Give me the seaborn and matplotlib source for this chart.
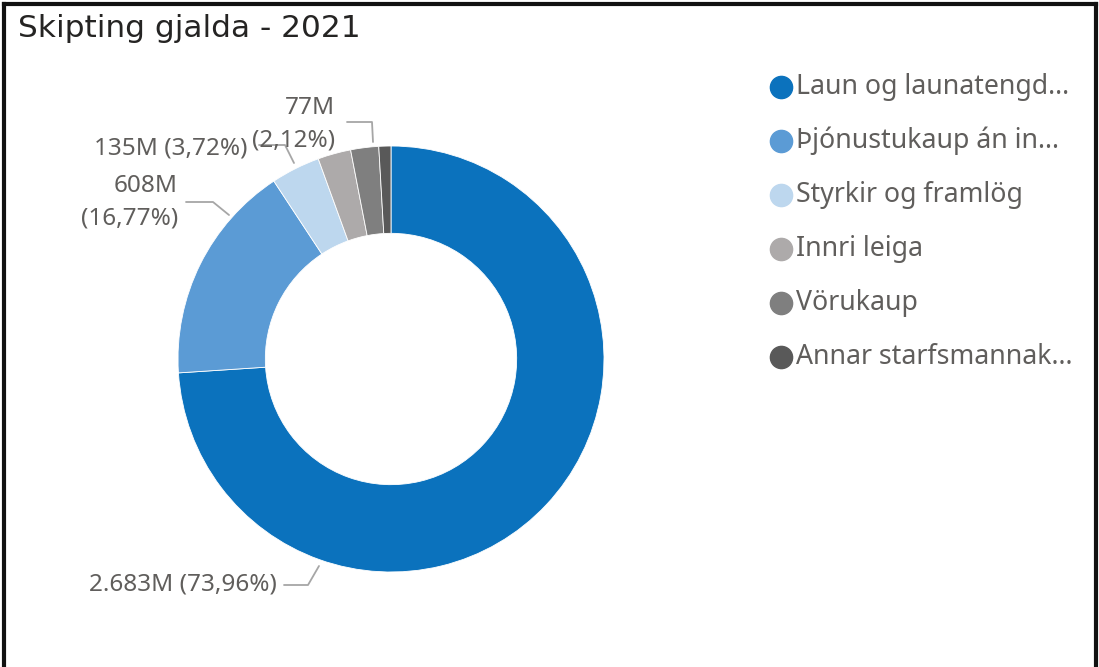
import matplotlib
matplotlib.use("Agg")
import matplotlib.pyplot as plt
from matplotlib.lines import Line2D
import seaborn as sns

# Expense categories (legend text) and amounts in millions
categories = [
    "Laun og launatengd...",
    "Þjónustukaup án in...",
    "Styrkir og framlög",
    "Innri leiga",
    "Vörukaup",
    "Annar starfsmannak...",
]
amounts_m = [2683.0, 608.4, 135.0, 91.0, 77.0, 33.2]
colors = ["#0B72BD", "#5B9BD5", "#BDD7EE", "#ADAAAA", "#7F7F7F", "#595959"]
labelled = [0, 1, 2, 4]  # slices that carry a data label
title = "Skipting gjalda - 2021"

sns.set_theme(style="white")
plt.rcParams["font.family"] = ["Noto Sans", "DejaVu Sans"]

W, H = 1099, 667
CX, CY, R = 391, 359, 213  # donut centre and outer radius in pixels

fig = plt.figure(figsize=(W / 100, H / 100), dpi=100)
ax = fig.add_axes([0, 0, 1, 1])

def px(x, y):
    """Pixel position -> data coordinates (donut centred at 0,0, radius 1)."""
    return (x - CX) / R, (CY - y) / R

palette = sns.color_palette(colors)
ax.pie(amounts_m, colors=palette, startangle=90, counterclock=False,
       radius=1.0, wedgeprops=dict(width=0.41, edgecolor="white", linewidth=0.6))
ax.set_xlim(px(0, 0)[0], px(W, 0)[0])
ax.set_ylim(px(0, H)[1], px(0, 0)[1])
ax.set_aspect("auto")
ax.axis("off")

total = sum(amounts_m)

def fmt_value(v):
    return f"{v:,.0f}".replace(",", ".") + "M"

def fmt_pct(v):
    return "(" + f"{100 * v / total:.2f}".replace(".", ",") + "%)"

label_color = "#605E5C"
line_color = "#A6A6A6"
fs = 17.5

# text anchor (pixels), two-line flag, leader polyline (pixels)
layout = {
    0: dict(xy=(277, 585), two=False,
            leader=[(284, 585), (308, 585), (319, 566)]),
    1: dict(xy=(178, 203), two=True,
            leader=[(186, 202), (213, 202), (229, 215)]),
    2: dict(xy=(247, 148), two=False,
            leader=[(259, 145), (285, 145), (294, 163)]),
    4: dict(xy=(335, 125), two=True,
            leader=[(347, 122), (372, 122), (373, 142)]),
}

for i in labelled:
    lay = layout[i]
    x0, y0 = lay["xy"]
    if lay["two"]:
        ax.text(*px(x0, y0 - 17), fmt_value(amounts_m[i]), ha="right", va="center",
                fontsize=fs, color=label_color)
        ax.text(*px(x0, y0 + 16), fmt_pct(amounts_m[i]), ha="right", va="center",
                fontsize=fs, color=label_color)
    else:
        ax.text(*px(x0, y0), f"{fmt_value(amounts_m[i])} {fmt_pct(amounts_m[i])}",
                ha="right", va="center", fontsize=fs, color=label_color)
    pts = [px(*p) for p in lay["leader"]]
    ax.plot([p[0] for p in pts], [p[1] for p in pts], color=line_color, lw=1.3)

# Legend: round markers with labels, one row per category
for k, (name, c) in enumerate(zip(categories, colors)):
    ly = 87 + 54 * k
    ax.plot(*px(781, ly), marker="o", markersize=16, color=c, linestyle="none")
    ax.text(*px(796, ly), name, ha="left", va="center", fontsize=19.2,
            color=label_color)

# Title and frame
fig.text(18 / W, 1 - 37 / H, title, ha="left", va="baseline",
         fontsize=22.5, color="#252423", family=["DejaVu Sans"])
frame = dict(color="#111111", lw=3, solid_capstyle="projecting")
fig.add_artist(Line2D([4 / W, 4 / W], [0, 1 - 4 / H], transform=fig.transFigure, **frame))
fig.add_artist(Line2D([1096 / W, 1096 / W], [0, 1 - 4 / H], transform=fig.transFigure, **frame))
fig.add_artist(Line2D([4 / W, 1096 / W], [1 - 4 / H, 1 - 4 / H], transform=fig.transFigure, **frame))

fig.savefig("out.png", dpi=100)
